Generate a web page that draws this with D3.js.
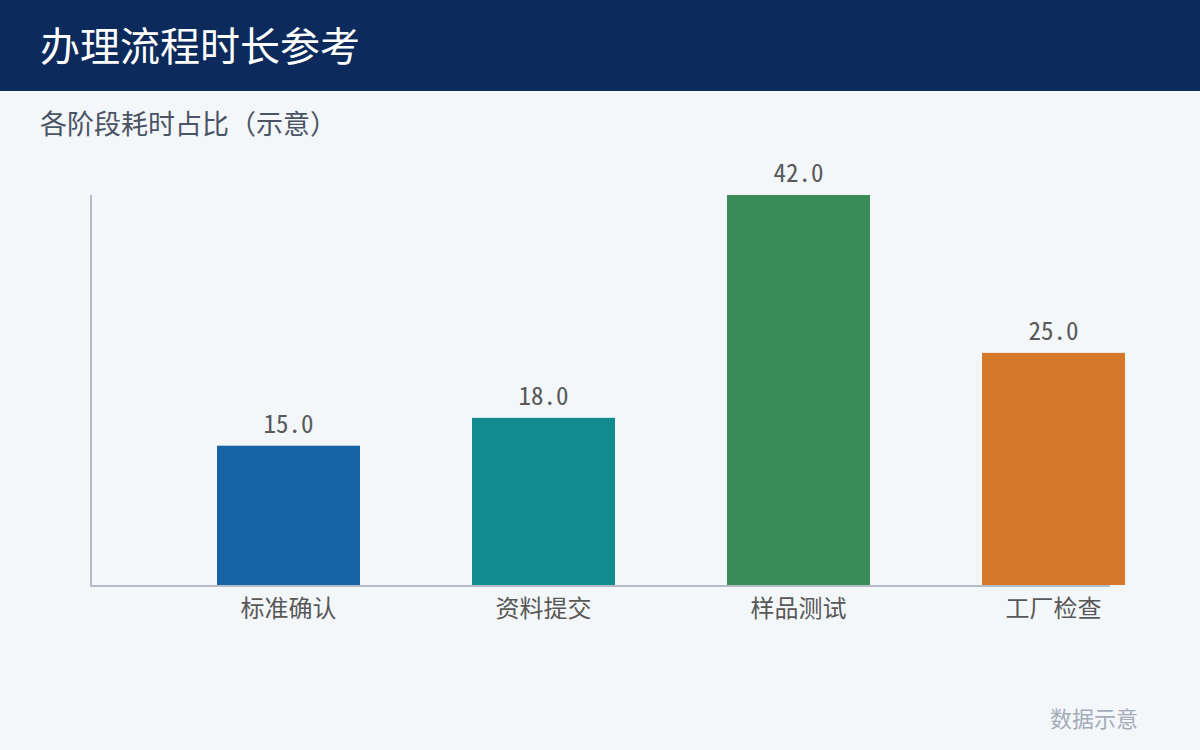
<!DOCTYPE html>
<html><head><meta charset="utf-8">
<script src="https://cdn.jsdelivr.net/npm/d3@7"></script>
<style>
html,body{margin:0;padding:0;background:#f4f7fa;}
svg{display:block;}
</style></head>
<body>
<svg id="chart" width="1200" height="750"></svg>
<script>
const categories = ["标准确认", "资料提交", "样品测试", "工厂检查"];
const values = [15.0, 18.0, 42.0, 25.0];
const colors = ["#1763a3", "#118b8e", "#3a8b58", "#d6782a"];
const title = "办理流程时长参考";
const subtitle = "各阶段耗时占比（示意）";
const footnote = "数据示意";

const svg = d3.select("#chart");
const font = "'Noto Sans CJK SC', 'Noto Sans', sans-serif";
const mono = "'Noto Sans Mono CJK SC', 'Noto Sans CJK SC', monospace";

svg.append("rect").attr("width", 1200).attr("height", 750).attr("fill", "#f4f7fa");
svg.append("rect").attr("width", 1200).attr("height", 91).attr("fill", "#0c2a5c");
svg.append("text").attr("x", 40).attr("y", 61).attr("fill", "#ffffff")
  .attr("font-family", font).attr("font-size", 40).text(title);
svg.append("text").attr("x", 40).attr("y", 134).attr("fill", "#4a5464")
  .attr("font-family", font).attr("font-size", 27).text(subtitle);

const y = d3.scaleLinear().domain([0, d3.max(values)]).range([585, 195]);
const x = d3.scaleBand().domain(categories).range([217, 1125]).paddingInner(0.4392).paddingOuter(0);

// axes lines
svg.append("line").attr("x1", 91).attr("x2", 91).attr("y1", 195).attr("y2", 586)
  .attr("stroke", "#b4bcc7").attr("stroke-width", 2);
svg.append("line").attr("x1", 90).attr("x2", 1110).attr("y1", 586).attr("y2", 586)
  .attr("stroke", "#b4bcc7").attr("stroke-width", 2);

svg.selectAll("rect.bar").data(values).enter().append("rect").attr("class", "bar")
  .attr("x", (d, i) => x(categories[i]))
  .attr("width", x.bandwidth())
  .attr("y", d => y(d))
  .attr("height", d => y(0) - y(d))
  .attr("fill", (d, i) => colors[i]);

svg.selectAll("text.val").data(values).enter().append("text").attr("class", "val")
  .attr("x", (d, i) => x(categories[i]) + x.bandwidth() / 2)
  .attr("y", d => y(d) - 13)
  .attr("text-anchor", "middle").attr("fill", "#595959")
  .attr("font-family", mono).attr("font-size", 25)
  .text(d => d.toFixed(1));

svg.selectAll("text.cat").data(categories).enter().append("text").attr("class", "cat")
  .attr("x", d => x(d) + x.bandwidth() / 2)
  .attr("y", 617)
  .attr("text-anchor", "middle").attr("fill", "#585858")
  .attr("font-family", font).attr("font-size", 24)
  .text(d => d);

svg.append("text").attr("x", 1138).attr("y", 727).attr("text-anchor", "end")
  .attr("fill", "#a3acb8").attr("font-family", font).attr("font-size", 22).text(footnote);
</script>
</body></html>
